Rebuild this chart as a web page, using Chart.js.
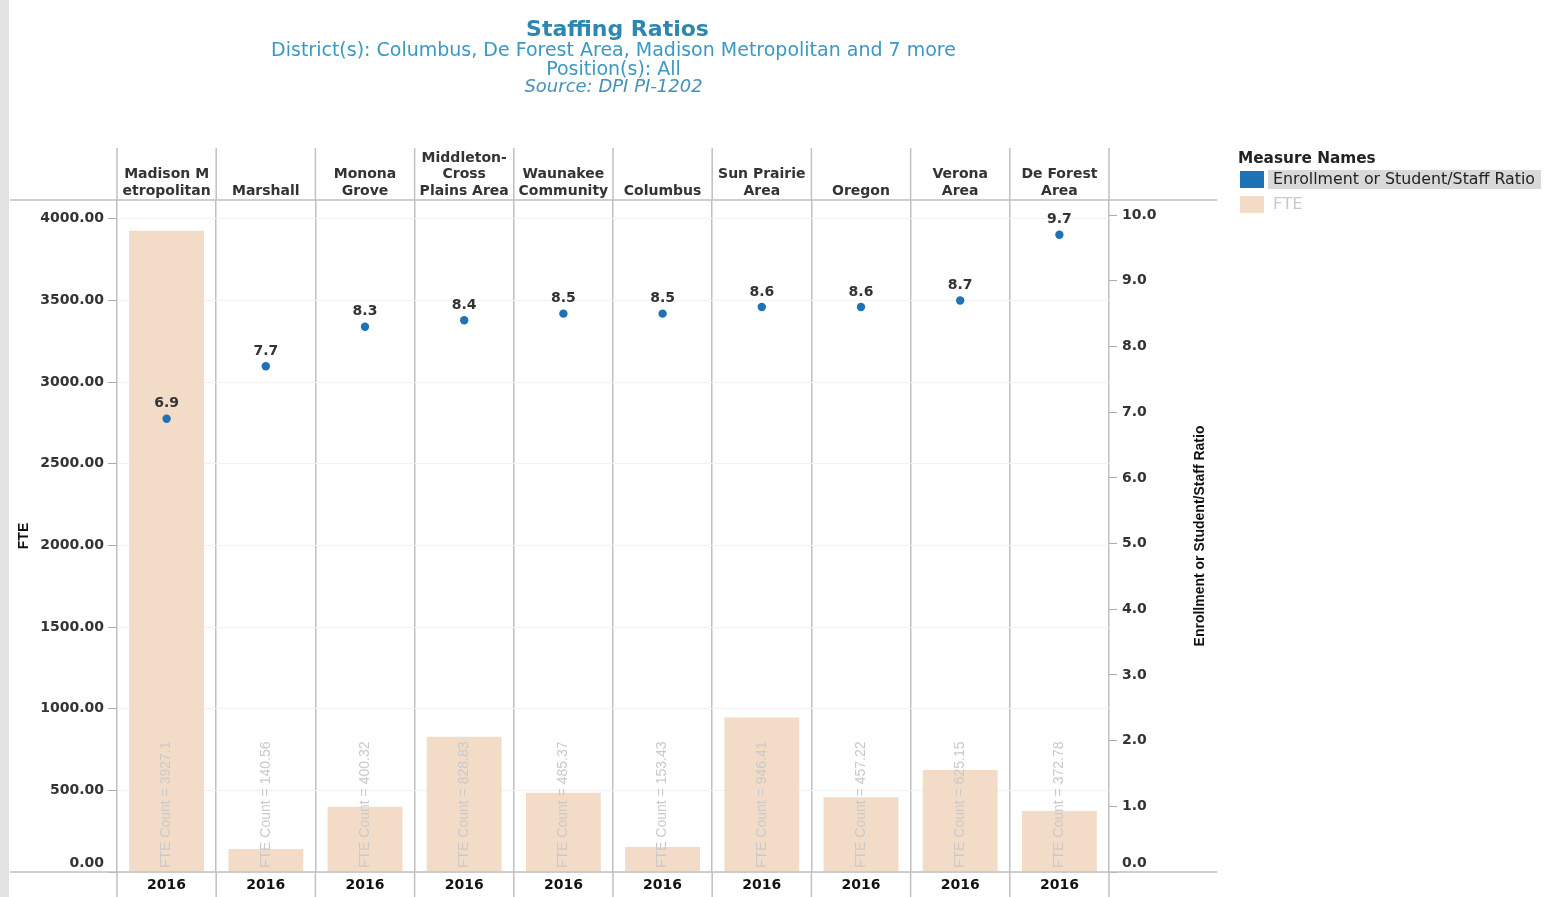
<!DOCTYPE html>
<html>
<head>
<meta charset="utf-8">
<title>Staffing Ratios</title>
<script src="https://cdn.jsdelivr.net/npm/chart.js@4/dist/chart.umd.min.js"></script>
<style>
  html, body { margin: 0; padding: 0; background: #fff; }
  #wrap { position: relative; width: 1545px; height: 897px; overflow: hidden; background: #fff; }
  #edge { position: absolute; left: 0; top: 0; width: 9px; height: 897px; background: #e3e3e3; }
  #chart { position: absolute; left: 0; top: 0; }
  .hd { position: absolute; left: 10px; width: 1207px; text-align: center; white-space: nowrap;
        font-family: "DejaVu Sans", sans-serif; color: #3a98c3; }
  #t1 { left: 14px; top: 17px; font-size: 22px; line-height: 24px; font-weight: bold; color: #2d87b0; }
  #t2 { top: 38px; font-size: 19px; line-height: 22px; }
  #t3 { top: 57px; font-size: 19px; line-height: 22px; }
  #t4 { top: 75px; font-size: 18px; line-height: 22px; font-style: italic; color: #4690b9; }
  .lg { position: absolute; font-family: "DejaVu Sans", sans-serif; white-space: nowrap; }
  #lgTitle { left: 1238px; top: 148px; font-size: 15.3px; line-height: 20px; font-weight: bold; color: #222; }
  .sw { position: absolute; left: 1240px; width: 24px; height: 17px; }
  #sw1 { top: 171px; background: #1f72b4; }
  #sw2 { top: 196px; background: #f3dcc7; }
  #hl { position: absolute; left: 1268px; top: 170px; width: 273px; height: 19px; background: #d9d9d9; }
  #lg1 { left: 1273px; top: 169px; font-size: 15.8px; line-height: 20px; color: #222; }
  #lg2 { left: 1273px; top: 194px; font-size: 16.5px; line-height: 20px; color: #c9c9c9; }
</style>
</head>
<body>
<div id="wrap">
  <div id="edge"></div>
  <canvas id="chart" width="1545" height="897"></canvas>
  <div class="hd" id="t1">Staffing Ratios</div>
  <div class="hd" id="t2">District(s): Columbus, De Forest Area, Madison Metropolitan and 7 more</div>
  <div class="hd" id="t3">Position(s): All</div>
  <div class="hd" id="t4">Source: DPI PI-1202</div>
  <div class="lg" id="lgTitle">Measure Names</div>
  <div class="sw" id="sw1"></div>
  <div id="hl"></div>
  <div class="lg" id="lg1">Enrollment or Student/Staff Ratio</div>
  <div class="sw" id="sw2"></div>
  <div class="lg" id="lg2">FTE</div>
</div>
<script>
// District names (multi-line header labels), one column per district
const districts = [
  ['Madison M', 'etropolitan'],
  ['Marshall'],
  ['Monona', 'Grove'],
  ['Middleton-', 'Cross', 'Plains Area'],
  ['Waunakee', 'Community'],
  ['Columbus'],
  ['Sun Prairie', 'Area'],
  ['Oregon'],
  ['Verona', 'Area'],
  ['De Forest', 'Area']
];
// School year shown under each column
const years = ['2016', '2016', '2016', '2016', '2016', '2016', '2016', '2016', '2016', '2016'];
// FTE staff count per district (bars, left axis)
const fteCounts = [3927.1, 140.56, 400.32, 828.83, 485.37, 153.43, 946.41, 457.22, 625.15, 372.78];
// Enrollment or student/staff ratio per district (dots, right axis)
const staffRatios = [6.9, 7.7, 8.3, 8.4, 8.5, 8.5, 8.6, 8.6, 8.7, 9.7];
// Axis ranges and tick values
const fteRange = [0, 4115];
const ratioRange = [0, 10.23];
const fteTicks = [0, 500, 1000, 1500, 2000, 2500, 3000, 3500, 4000];
const ratioTicks = [0, 1, 2, 3, 4, 5, 6, 7, 8, 9, 10];

const BOLD14 = { family: 'DejaVu Sans', size: 14, weight: 'bold' };
const LINE = '#c0c0c0';

// Column dividers in the header/footer rows, frame rules and rotated right-axis title
const framePlugin = {
  id: 'frame',
  afterDraw(chart) {
    const ctx = chart.ctx, xs = chart.scales.x, a = chart.chartArea;
    ctx.save();
    ctx.strokeStyle = LINE;
    ctx.lineWidth = 1.5;
    ctx.beginPath();
    for (let i = 0; i <= districts.length; i++) {
      const px = xs.getPixelForValue(i - 0.5);
      ctx.moveTo(px, a.top - 52); ctx.lineTo(px, a.top);
      ctx.moveTo(px, a.bottom); ctx.lineTo(px, chart.height);
    }
    ctx.moveTo(10, a.top); ctx.lineTo(a.right + 108, a.top);
    ctx.moveTo(10, a.bottom); ctx.lineTo(a.right + 108, a.bottom);
    ctx.stroke();

    ctx.translate(a.right + 91, (a.top + a.bottom) / 2);
    ctx.rotate(-Math.PI / 2);
    ctx.font = 'bold 14px "Liberation Sans Narrow", "Liberation Sans", sans-serif';
    ctx.fillStyle = '#111';
    ctx.textAlign = 'center';
    ctx.textBaseline = 'middle';
    ctx.fillText('Enrollment or Student/Staff Ratio', 0, 0);
    ctx.restore();
  }
};

// Value labels: rotated FTE count inside each bar, ratio above each dot
const labelPlugin = {
  id: 'valueLabels',
  afterDatasetsDraw(chart) {
    const ctx = chart.ctx, a = chart.chartArea;
    ctx.save();
    const bars = chart.getDatasetMeta(0).data;
    ctx.font = '14px "Liberation Sans", Arial, sans-serif';
    ctx.fillStyle = '#c9c9cb';
    ctx.textAlign = 'left';
    ctx.textBaseline = 'middle';
    bars.forEach((el, i) => {
      ctx.save();
      ctx.translate(el.x, a.bottom - 4);
      ctx.rotate(-Math.PI / 2);
      ctx.fillText('FTE Count = ' + fteCounts[i], 0, 0);
      ctx.restore();
    });
    const pts = chart.getDatasetMeta(1).data;
    ctx.font = 'bold 14px "DejaVu Sans", sans-serif';
    ctx.fillStyle = '#333';
    ctx.textAlign = 'center';
    pts.forEach((el, i) => {
      ctx.fillText(staffRatios[i].toFixed(1), el.x, el.y - 15);
    });
    ctx.restore();
  }
};

new Chart(document.getElementById('chart'), {
  data: {
    labels: districts,
    datasets: [
      {
        type: 'bar',
        label: 'FTE',
        data: fteCounts,
        xAxisID: 'x',
        yAxisID: 'y',
        backgroundColor: '#f3dcc7',
        barPercentage: 0.755,
        categoryPercentage: 1,
        order: 2
      },
      {
        type: 'line',
        label: 'Enrollment or Student/Staff Ratio',
        data: staffRatios,
        xAxisID: 'x',
        yAxisID: 'y1',
        showLine: false,
        pointRadius: 4.2,
        pointBackgroundColor: '#1f72b4',
        pointBorderWidth: 0,
        order: 1
      }
    ]
  },
  options: {
    responsive: false,
    animation: false,
    layout: { padding: { left: 10, right: 328, top: 0, bottom: 0 } },
    plugins: { legend: { display: false }, tooltip: { enabled: false } },
    scales: {
      x: {
        type: 'category',
        position: 'top',
        offset: true,
        grid: { offset: true, color: LINE, lineWidth: 1.5, drawTicks: false },
        border: { display: false },
        ticks: { font: BOLD14, color: '#333', padding: 0, maxRotation: 0, autoSkip: false },
        afterFit(s) { s.height = 200; }
      },
      x2: {
        type: 'category',
        labels: years,
        position: 'bottom',
        offset: true,
        grid: { display: false, drawTicks: false },
        border: { display: false },
        ticks: { font: BOLD14, color: '#111', padding: 5, maxRotation: 0, autoSkip: false },
        afterFit(s) { s.height = 25; }
      },
      y: {
        position: 'left',
        min: fteRange[0],
        max: fteRange[1],
        afterBuildTicks(s) { s.ticks = fteTicks.map(v => ({ value: v })); },
        grid: { color: '#f2f2f2', tickColor: '#aaa', tickLength: 9 },
        border: { display: false },
        ticks: {
          padding: 4,
          font: BOLD14,
          color: '#333',
          callback: v => v === 0 ? ['0.00', ''] : v.toFixed(2)
        },
        title: {
          display: true,
          text: 'FTE',
          font: { family: 'Liberation Sans', size: 14, weight: 'bold' },
          color: '#111',
          padding: { top: 6, bottom: 0 }
        },
        afterFit(s) { s.width = 107; }
      },
      y1: {
        position: 'right',
        min: ratioRange[0],
        max: ratioRange[1],
        afterBuildTicks(s) { s.ticks = ratioTicks.map(v => ({ value: v })); },
        grid: { drawOnChartArea: false, tickColor: '#aaa', tickLength: 8 },
        border: { display: false },
        ticks: {
          padding: 5,
          font: BOLD14,
          color: '#333',
          callback: v => v === 0 ? ['0.0', ''] : v.toFixed(1)
        },
        afterFit(s) { s.width = 108; }
      }
    }
  },
  plugins: [framePlugin, labelPlugin]
});
</script>
</body>
</html>
